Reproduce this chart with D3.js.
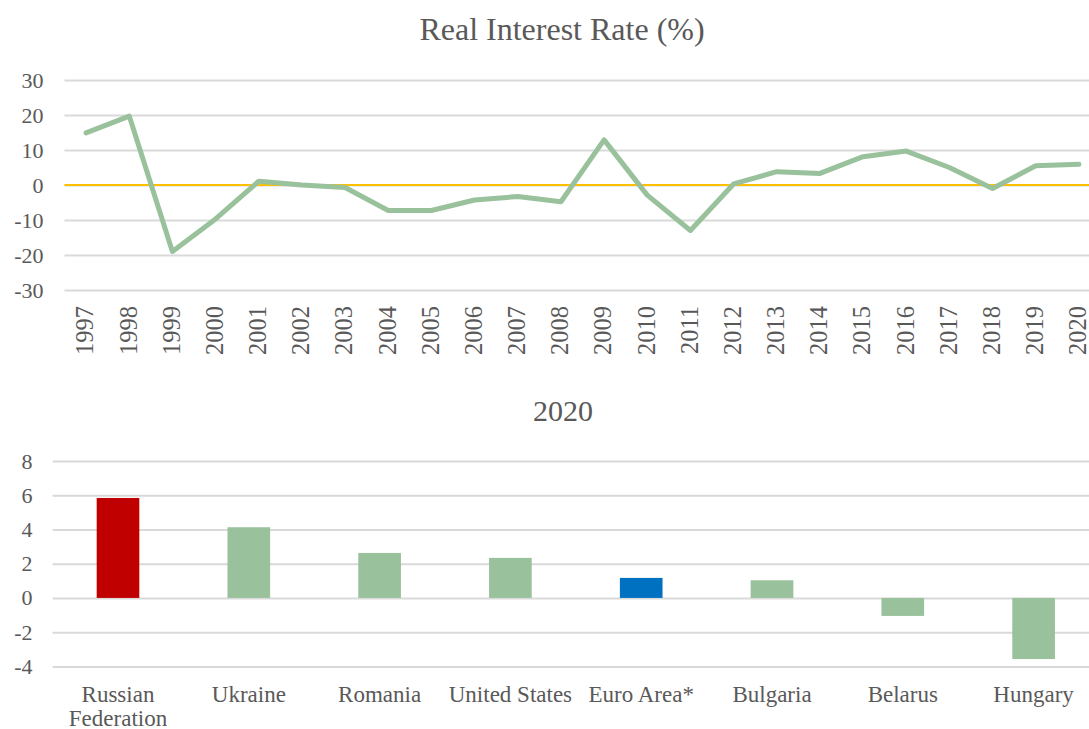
<!DOCTYPE html>
<html lang="en">
<head>
  <meta charset="UTF-8">
  <title>Real Interest Rate (%)</title>
  <script src="https://d3js.org/d3.v7.min.js"></script>
  <style>
    body {
      margin: 0;
      background: #fff;
    }
    svg { display: block; }
    .grid line { stroke: #D9D9D9; stroke-width: 2px; }
    .title { fill: #595959; text-anchor: middle; }
  </style>
</head>
<body>
  <div id="chart"></div>
  <script>
    // Top chart: yearly real interest rate
    const years = ["1997", "1998", "1999", "2000", "2001", "2002", "2003", "2004", "2005", "2006", "2007", "2008",
                   "2009", "2010", "2011", "2012", "2013", "2014", "2015", "2016", "2017", "2018", "2019", "2020"];
    const rates = [14.9, 19.7, -19.0, -9.7, 1.1, 0.0, -0.7, -7.3, -7.3, -4.3, -3.3, -4.8,
                   12.9, -2.9, -13.0, 0.3, 3.8, 3.3, 8.1, 9.7, 5.0, -1.0, 5.5, 5.9];
    const rateTicks = [-30, -20, -10, 0, 10, 20, 30];

    // Bottom chart: 2020 by country
    const countries = ["Russian Federation", "Ukraine", "Romania", "United States", "Euro Area*", "Bulgaria", "Belarus", "Hungary"];
    const rates2020 = [5.84, 4.13, 2.63, 2.34, 1.17, 1.03, -1.05, -3.57];
    const countryTicks = [-4, -2, 0, 2, 4, 6, 8];

    const green = "#99C19C";
    const highlight = { "Russian Federation": "#C00000", "Euro Area*": "#0070C0" };
    const serif = "'Liberation Serif', 'Times New Roman', Times, serif";
    const textColor = "#595959";

    const W = 1089, H = 729;
    const svg = d3.select("#chart").append("svg")
      .attr("width", W)
      .attr("height", H)
      .attr("font-family", serif);

    // ---------- top line chart ----------
    const x1 = d3.scaleBand().domain(years).range([64.5, 1100.5]);
    const y1 = d3.scaleLinear().domain([-30, 30]).range([290, 80]);

    svg.append("text").attr("class", "title")
      .attr("x", 562).attr("y", 40)
      .attr("font-size", 32)
      .text("Real Interest Rate (%)");

    svg.append("g").attr("class", "grid")
      .attr("transform", "translate(64.5,0)")
      .call(d3.axisLeft(y1).tickValues(rateTicks).tickSize(-1040).tickPadding(21).tickFormat(d => String(d)))
      .attr("font-family", serif)
      .attr("font-size", 22)
      .call(g => g.select(".domain").remove())
      .selectAll("text").attr("fill", textColor);

    // zero line
    svg.append("line")
      .attr("x1", 64.5).attr("x2", W)
      .attr("y1", y1(0)).attr("y2", y1(0))
      .attr("stroke", "#FFC000").attr("stroke-width", 2);

    svg.append("g")
      .attr("transform", "translate(0,306)")
      .call(d3.axisBottom(x1).tickSize(0).tickPadding(0))
      .attr("font-family", serif)
      .attr("font-size", 24.5)
      .call(g => g.select(".domain").remove())
      .selectAll("text")
        .attr("fill", textColor)
        .attr("text-anchor", "end")
        .attr("transform", "rotate(-90)")
        .attr("x", 0).attr("y", 0)
        .attr("dy", "0.3em");

    const line = d3.line()
      .x((d, i) => x1(years[i]) + x1.bandwidth() / 2)
      .y(d => y1(d));

    svg.append("path")
      .datum(rates)
      .attr("fill", "none")
      .attr("stroke", green)
      .attr("stroke-width", 5)
      .attr("stroke-linejoin", "round")
      .attr("stroke-linecap", "round")
      .attr("d", line);

    // ---------- bottom bar chart ----------
    const x2 = d3.scaleBand().domain(countries).range([52.6, 1099])
      .paddingInner(0.674).paddingOuter(0.337);
    const y2 = d3.scaleLinear().domain([-4, 8]).range([666.4, 461]);

    svg.append("text").attr("class", "title")
      .attr("x", 563).attr("y", 421)
      .attr("font-size", 30)
      .text("2020");

    svg.append("g").attr("class", "grid")
      .attr("transform", "translate(52.6,0)")
      .call(d3.axisLeft(y2).tickValues(countryTicks).tickSize(-1050).tickPadding(20).tickFormat(d => String(d)))
      .attr("font-family", serif)
      .attr("font-size", 22)
      .call(g => g.select(".domain").remove())
      .selectAll("text").attr("fill", textColor);

    svg.append("g")
      .selectAll("rect")
      .data(countries)
      .join("rect")
        .attr("x", d => x2(d))
        .attr("width", x2.bandwidth())
        .attr("y", (d, i) => y2(Math.max(0, rates2020[i])))
        .attr("height", (d, i) => Math.abs(y2(rates2020[i]) - y2(0)))
        .attr("fill", d => highlight[d] || green);

    const catAxis = svg.append("g")
      .attr("transform", "translate(0,702)")
      .call(d3.axisBottom(x2).tickSize(0).tickPadding(0))
      .attr("font-family", serif)
      .attr("font-size", 23)
      .call(g => g.select(".domain").remove());

    catAxis.selectAll("text")
      .attr("fill", textColor)
      .attr("y", 0)
      .attr("dy", 0)
      .each(function(d) {
        const t = d3.select(this);
        if (this.getComputedTextLength() <= x2.step() + 2) return;
        const words = d.split(" ");
        t.text(null);
        words.forEach((w, i) => {
          t.append("tspan").attr("x", 0).attr("dy", i === 0 ? 0 : 24).text(w);
        });
      });
  </script>
</body>
</html>
